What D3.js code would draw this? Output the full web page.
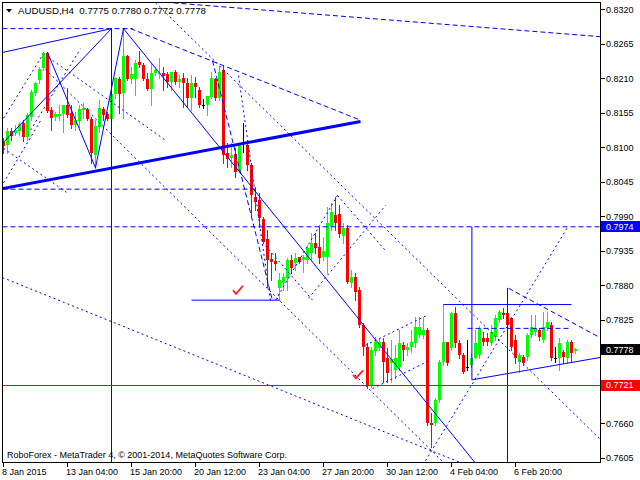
<!DOCTYPE html>
<html><head><meta charset="utf-8">
<script src="https://cdn.jsdelivr.net/npm/d3@7/dist/d3.min.js"></script>
<style>
body{margin:0;background:#fff}
svg{display:block}
text{font-family:"Liberation Sans",Arial,sans-serif;font-size:9px;fill:#000}
</style>
</head><body>
<svg id="chart" width="640" height="480"></svg>
<script>
const titleText = "AUDUSD,H4  0.7775 0.7780 0.7772 0.7778";
const footerText = "RoboForex - MetaTrader 4, © 2001-2014, MetaQuotes Software Corp.";

const opens  = [.8109,.8104,.8126,.8123,.8126,.8139,.8117,.8148,.8187,.8207,.8227,.8250,.8160,.8148,.8150,.8153,.8168,.8155,.8136,.8142,
.8160,.8161,.8145,.8088,.8132,.8161,.8153,.8145,.8185,.8209,.8187,.8246,.8209,.8209,.8236,.8231,.8209,.8193,.8219,.8217,
.8219,.8217,.8204,.8220,.8204,.8211,.8203,.8179,.8203,.8191,.8168,.8168,.8180,.8209,.8179,.8223,.8091,.8083,.8089,.8062,
.8109,.8104,.8072,.8021,.8016,.7986,.7954,.7922,.7919,.7876,.7884,.7892,.7920,.7915,.7925,.7920,.7920,.7931,.7947,.7941,
.7925,.7925,.7975,.7992,.7994,.7959,.7971,.7884,.7893,.7872,.7817,.7782,.7721,.7775,.7780,.7790,.7764,.7756,.7745,.7750,
.7785,.7777,.7782,.7788,.7801,.7801,.7809,.7660,.7660,.7697,.7758,.7790,.7780,.7836,.7788,.7769,.7750,.7753,.7764,.7769,
.7796,.7796,.7788,.7798,.7825,.7836,.7836,.7828,.7793,.7758,.7766,.7766,.7801,.7805,.7809,.7793,.7812,.7817,.7764,.7764,
.7774,.7764,.7790,.7775];
const highs  = [.8115,.8131,.8131,.8136,.8140,.8144,.8155,.8191,.8204,.8228,.8252,.8252,.8164,.8156,.8168,.8168,.8195,.8168,.8156,.8168,
.8171,.8163,.8148,.8144,.8175,.8164,.8156,.8219,.8212,.8212,.8290,.8247,.8228,.8239,.8254,.8235,.8219,.8235,.8228,.8242,
.8228,.8220,.8220,.8223,.8215,.8219,.8211,.8215,.8212,.8196,.8177,.8182,.8220,.8211,.8230,.8230,.8107,.8107,.8099,.8107,
.8139,.8107,.8075,.8037,.8027,.7989,.7968,.7931,.7931,.7900,.7900,.7923,.7928,.7931,.7925,.7928,.7944,.7963,.7963,.7973,
.7957,.8005,.8011,.8021,.8008,.7979,.7976,.7904,.7900,.7877,.7820,.7788,.7782,.7798,.7796,.7796,.7780,.7793,.7785,.7809,
.7790,.7788,.7809,.7829,.7829,.7829,.7812,.7676,.7700,.7760,.7850,.7790,.7837,.7845,.7793,.7772,.7793,.7772,.7809,.7815,
.7805,.7804,.7817,.7833,.7840,.7844,.7876,.7830,.7801,.7772,.7769,.7804,.7833,.7833,.7812,.7837,.7837,.7821,.7782,.7796,
.7777,.7793,.7793,.7780];
const lows   = [.8091,.8091,.8112,.8120,.8120,.8110,.8112,.8144,.8183,.8203,.8223,.8156,.8128,.8144,.8144,.8124,.8148,.8131,.8128,.8132,
.8147,.8144,.8075,.8067,.8124,.8144,.8144,.8131,.8179,.8155,.8147,.8207,.8203,.8183,.8228,.8207,.8191,.8168,.8215,.8211,
.8191,.8196,.8191,.8201,.8196,.8164,.8164,.8160,.8180,.8164,.8163,.8152,.8179,.8175,.8175,.8075,.8069,.8069,.8053,.8061,
.8093,.8064,.7992,.8000,.7973,.7947,.7877,.7888,.7904,.7857,.7872,.7872,.7900,.7904,.7915,.7901,.7915,.7920,.7931,.7915,
.7920,.7900,.7968,.7968,.7957,.7947,.7884,.7877,.7857,.7813,.7769,.7716,.7718,.7769,.7777,.7726,.7726,.7726,.7732,.7745,
.7761,.7769,.7774,.7782,.7798,.7796,.7657,.7622,.7657,.7694,.7753,.7753,.7777,.7782,.7764,.7740,.7745,.7750,.7764,.7764,
.7785,.7785,.7785,.7793,.7821,.7828,.7777,.7777,.7756,.7742,.7753,.7761,.7798,.7801,.7793,.7790,.7809,.7761,.7758,.7745,
.7756,.7756,.7758,.7772];
const closes = [.8102,.8126,.8118,.8128,.8137,.8117,.8152,.8188,.8203,.8225,.8250,.8158,.8147,.8153,.8153,.8168,.8152,.8136,.8144,.8161,
.8163,.8145,.8091,.8134,.8163,.8152,.8145,.8185,.8211,.8185,.8246,.8209,.8217,.8235,.8231,.8209,.8193,.8219,.8223,.8219,
.8214,.8204,.8220,.8204,.8209,.8203,.8179,.8203,.8196,.8168,.8168,.8182,.8211,.8179,.8220,.8088,.8081,.8088,.8061,.8104,
.8109,.8072,.8024,.8013,.7988,.7949,.7920,.7917,.7914,.7888,.7893,.7920,.7908,.7923,.7917,.7925,.7939,.7947,.7939,.7923,
.7935,.7979,.7997,.7979,.7962,.7971,.7885,.7893,.7869,.7817,.7782,.7721,.7777,.7790,.7790,.7758,.7740,.7762,.7764,.7788,
.7777,.7782,.7790,.7813,.7813,.7809,.7660,.7657,.7697,.7758,.7790,.7756,.7836,.7788,.7769,.7742,.7750,.7764,.7788,.7812,
.7790,.7790,.7805,.7828,.7837,.7833,.7817,.7782,.7764,.7769,.7756,.7801,.7813,.7812,.7798,.7813,.7821,.7764,.7764,.7788,
.7766,.7790,.7772,.7778];

const priceTicks = [0.8320,0.8265,0.8210,0.8155,0.8100,0.8045,0.7990,0.7935,0.7880,0.7825,0.7770,0.7715,0.7660,0.7605];
const timeTickIdx = [0,16,32,48,64,80,96,112,128];
const timeTickLabels = ["8 Jan 2015","13 Jan 04:00","15 Jan 20:00","20 Jan 12:00","23 Jan 04:00","27 Jan 20:00","30 Jan 12:00","4 Feb 04:00","6 Feb 20:00"];

// trend objects: [barIndex1, price1, barIndex2, price2]
const solidLines = [
 [-0.25,.8252, 27,.8290],
 [27,.8290, 27,.7590],
 [-0.25,.8107, 27,.8290],
 [11,.8252, 23,.8068],
 [23,.8068, 30,.8290],
 [30,.8290, 118,.7597],
 [47,.7857, 69,.7857],
 [110,.7850, 142,.7850],
 [117.1,.7974, 117.1,.7730],
 [117.1,.7730, 149.5,.7766],
 [126,.7876, 126,.7590]
];
const thickLines = [[-0.25,.8035, 89.25,.8142]];
const dashedLines = [
 [-0.25,.8290, 32.25,.8290],
 [-0.25,.8034, 63,.8034],
 [-0.25,.7974, 149.5,.7974],
 [116,.7812, 142,.7812],
 [40.5,.8332, 149.5,.8277],
 [31.75,.8290, 89.25,.8144],
 [52.25,.8239, 67.25,.7856],
 [126.25,.7876, 149.5,.7796]
];
const dottedLines = [
 [-0.25,.7893, 114.25,.7598],
 [38,.8331, 149.5,.7633],
 [10.5,.8225, 110.5,.7595],
 [58.75,.8215, 66.75,.7856],
 [90.5,.7785, 106.25,.7834],
 [92.25,.7716, 106.25,.7760],
 [105.5,.7601, 141,.7973],
 [68,.7857, 83.5,.8024],
 [83.5,.8024, 95.5,.7936],
 [76.25,.7860, 95.5,.8008],
 [65.5,.7944, 77.25,.7857],
 [0,.8147, 10,.8250],
 [11.25,.8244, 40.5,.8112],
 [0,.8099, 15.75,.8029],
 [0,.8044, 9.25,.8143],
 [6.75,.8128, 19.25,.8258]
];
const redLevel = 0.7721;
const levelLabels = [0.7974, 0.7778, 0.7721];
const checkIdx = [58.75, 88.75];
const checkPrice = [0.7872, 0.7737];

const svg = d3.select("#chart");
const L = 2, T = 2, R = 600, B = 462;
const x = d3.scaleLinear().domain([0, 143]).range([3, 575]);
const y = d3.scaleLinear().domain([0.7605, 0.8320]).range([457.7, 9.3]);

svg.append("rect").attr("width",640).attr("height",480).attr("fill","#fff");
svg.append("defs").append("clipPath").attr("id","plot")
  .append("rect").attr("x",L+1).attr("y",T+1).attr("width",R-L-1).attr("height",B-T-1);

const plot = svg.append("g").attr("clip-path","url(#plot)");

// candles
const bars = d3.range(opens.length).map(i => ({i, o:opens[i], h:highs[i], l:lows[i], c:closes[i]}));
const col = d => d.c > d.o ? "#00ff00" : (d.c < d.o ? "#ff0000" : "#000000");
const cg = plot.append("g").attr("shape-rendering","crispEdges");
cg.selectAll("line.w").data(bars).join("line")
  .attr("x1", d => Math.round(x(d.i)) + 0.5).attr("x2", d => Math.round(x(d.i)) + 0.5)
  .attr("y1", d => Math.round(y(d.h))).attr("y2", d => Math.round(y(d.l)) + 1)
  .attr("stroke", col).attr("stroke-width", 1);
cg.selectAll("rect.b").data(bars).join("rect")
  .attr("x", d => Math.round(x(d.i)) - 1).attr("width", 3)
  .attr("y", d => Math.round(y(Math.max(d.o, d.c))))
  .attr("height", d => Math.max(1, Math.round(y(Math.min(d.o, d.c))) - Math.round(y(Math.max(d.o, d.c)))))
  .attr("fill", col);

// red level line
plot.append("line").attr("x1",L).attr("x2",R).attr("y1",Math.round(y(redLevel))+0.5).attr("y2",Math.round(y(redLevel))+0.5)
  .attr("stroke","#ff0000").attr("stroke-width",1);

function drawLines(data, width, dash){
  plot.append("g").selectAll("line").data(data).join("line")
    .attr("x1", d => x(d[0]) + 0.5).attr("y1", d => y(d[1]) + 0.5)
    .attr("x2", d => x(d[2]) + 0.5).attr("y2", d => y(d[3]) + 0.5)
    .attr("stroke", "#0000ff").attr("stroke-width", width)
    .attr("stroke-dasharray", dash);
}
drawLines(dottedLines, 1, "2,3");
drawLines(dashedLines, 1, "5,3");
drawLines(solidLines, 1, null);
drawLines(thickLines, 3, null);

// check marks
plot.append("g").selectAll("path").data(checkIdx).join("path")
  .attr("transform", (d,k) => `translate(${x(d)},${y(checkPrice[k])})`)
  .attr("d", "M-5,0 L-2,3.5 L5,-4.5")
  .attr("fill","none").attr("stroke","#ff2020").attr("stroke-width",1.8);

// frame
const fr = svg.append("g").attr("shape-rendering","crispEdges").attr("stroke","#000");
fr.append("line").attr("x1",L+0.5).attr("x2",L+0.5).attr("y1",T).attr("y2",B+1);
fr.append("line").attr("x1",L).attr("x2",R+1).attr("y1",T+0.5).attr("y2",T+0.5);
fr.append("line").attr("x1",R+0.5).attr("x2",R+0.5).attr("y1",T).attr("y2",B+1);
fr.append("line").attr("x1",L).attr("x2",R+1).attr("y1",B+0.5).attr("y2",B+0.5);

// price axis (labels hidden behind level boxes are not drawn)
const pa = svg.append("g");
pa.selectAll("line").data(priceTicks).join("line").attr("shape-rendering","crispEdges")
  .attr("x1",R).attr("x2",R+5).attr("y1",d=>Math.round(y(d))+0.5).attr("y2",d=>Math.round(y(d))+0.5).attr("stroke","#000");
const visibleTicks = priceTicks.filter(t => levelLabels.every(p => Math.abs(y(p) - y(t)) > 9));
pa.selectAll("text").data(visibleTicks).join("text")
  .attr("x",R+6).attr("y",d=>y(d)+3.3).text(d=>d.toFixed(4));

// time axis
const ta = svg.append("g");
ta.selectAll("line").data(timeTickIdx).join("line").attr("shape-rendering","crispEdges")
  .attr("x1",d=>Math.round(x(d))+0.5).attr("x2",d=>Math.round(x(d))+0.5).attr("y1",B).attr("y2",B+5).attr("stroke","#000");
ta.selectAll("text").data(timeTickIdx).join("text")
  .attr("x",d=>x(d)-1).attr("y",475).text((d,k)=>timeTickLabels[k]);

// level labels
const lblColors = ["#0000ff","#000000","#ff0000"];
const lg = svg.append("g");
levelLabels.forEach((p,k)=>{
  const yy = y(p);
  lg.append("rect").attr("x",R+1).attr("y",Math.round(yy)-5).attr("width",40).attr("height",11).attr("fill",lblColors[k]).attr("shape-rendering","crispEdges");
  lg.append("text").attr("x",R+6).attr("y",yy+3.3).style("fill","#fff").text(p.toFixed(4));
});

// title
svg.append("path").attr("d","M6,9 L12,9 L9,12.5 Z").attr("fill","#000");
svg.append("text").attr("x",18).attr("y",14).style("font-size","9.7px").style("white-space","pre").text(titleText);
svg.append("text").attr("x",7).attr("y",458).text(footerText);
</script>
</body></html>
